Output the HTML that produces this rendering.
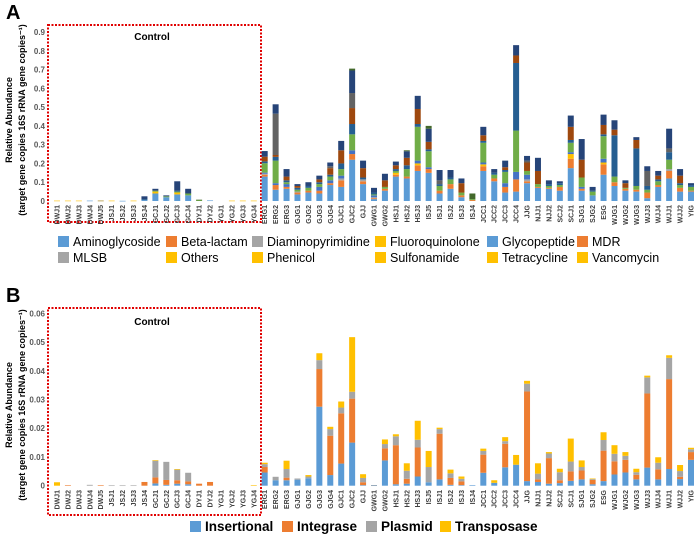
<!DOCTYPE html>
<html><head><meta charset="utf-8"><style>
body{margin:0;background:#fff;}
svg{display:block;font-family:"Liberation Sans",sans-serif;}
</style></head><body>
<svg id="chart" width="694" height="536" viewBox="0 0 694 536"></svg>
<script>
const categories=["DWJ1","DWJ2","DWJ3","DWJ4","DWJ5","JSJ1","JSJ2","JSJ3","JSJ4","GCJ1","GCJ2","GCJ3","GCJ4","DYJ1","DYJ2","YGJ1","YGJ2","YGJ3","YGJ4","ERG1","ERG2","ERG3","GJG1","GJG2","GJG3","GJG4","GJC1","GJC2","GJJ","GWG1","GWG2","HSJ1","HSJ2","HSJ3","ISJ5","ISJ1","ISJ2","ISJ3","ISJ4","JCC1","JCC2","JCC3","JCC4","JJG","NJJ1","NJJ2","SCJ2","SCJ1","SJG1","SJG2","ESG","WJG1","WJG2","WJG3","WJJ3","WJJ4","WJJ1","WJJ2","YIG"];
const ticksA=[0,0.1,0.2,0.3,0.4,0.5,0.6,0.7,0.8,0.9];
const ticksB=[0,0.01,0.02,0.03,0.04,0.05,0.06];
const namesA=["Aminoglycoside","Beta-lactam","Diaminopyrimidine","Fluoroquinolone","Glycopeptide","MDR","MLSB","Others","Phenicol","Sulfonamide","Tetracycline","Vancomycin"];
const aminoglycoside=[0,0,0,.002,0,0,.001,0,.005,.04,.02,.035,.03,0,.003,0,0,0,0,.13,.06,.065,.035,.045,.04,.085,.075,.22,.09,.01,.055,.13,.12,.16,.15,.04,.065,.02,0,.16,.105,.045,.05,.095,.07,.065,.055,.175,.055,.03,.14,.08,.055,.05,.015,.075,.12,.05,.05];
const betaLactam=[0,0,0,0,0,0,0,0,0,0,0,0,0,0,0,0,0,0,0,.01,.025,.01,.01,.01,.015,.01,.035,.03,.015,.005,.01,.01,.01,.03,.02,.015,.025,.01,.005,.025,.015,.03,.065,.01,.005,.005,.02,.05,.01,0,.055,.02,.01,.01,.03,.01,.04,.02,.005];
const diaminopyrimidine=[0,0,0,0,0,0,0,0,0,0,0,0,0,0,0,0,0,0,0,.005,0,0,.005,0,0,0,.01,0,.01,.005,0,0,0,0,0,0,0,0,0,0,0,0,0,.01,0,0,0,0,0,0,0,0,0,0,0,0,.01,0,0];
const fluoroquinolone=[.002,.002,.002,0,0,.002,0,.002,0,.01,0,.01,0,0,0,0,.002,.002,.002,0,0,0,0,0,0,0,0,0,0,0,0,.01,0,.01,0,0,0,0,0,.01,0,0,0,0,0,0,0,.025,0,0,.01,0,0,0,0,0,0,0,0];
const glycopeptide=[0,0,0,0,0,0,0,0,0,0,0,0,0,0,0,0,0,0,0,.006,.01,.015,0,0,.02,.015,.015,.02,0,.01,0,0,0,.015,.01,0,0,0,0,.01,0,.02,.04,.025,0,0,0,.01,.01,0,.02,0,0,0,0,0,0,0,0];
const mdr=[0,0,0,0,0,0,0,0,0,.005,.005,.005,.01,.005,0,0,0,0,0,.05,.12,.01,.01,.015,.015,.02,.035,.085,0,.005,.01,.01,.04,.18,.085,.025,.025,.015,.005,.105,.02,.06,.22,.02,.015,.01,.01,.05,.05,.02,.12,.03,.005,.02,.015,.02,.05,.015,.02];
const mlsb=[0,0,0,0,0,0,0,0,.005,0,0,.005,0,0,0,0,0,0,0,.01,.02,.01,.01,.01,.01,.01,.03,.055,.01,.01,0,.01,.02,.015,.01,.01,.01,0,0,.01,.01,.01,.36,0,0,.01,.01,.015,0,.005,.01,.22,0,.2,.02,.01,.04,.01,.01];
const others=[0,0,0,0,0,0,0,0,0,0,0,0,0,0,0,0,0,0,0,.025,.01,.02,.01,0,.015,.035,.07,.085,.05,0,.035,.02,.04,.08,.04,0,0,.05,0,.03,0,.015,.04,.045,.07,0,0,.07,.095,0,.05,.03,.025,.045,0,.02,0,.04,0];
const phenicol=[0,0,0,0,0,0,0,0,0,0,0,0,0,0,0,0,0,0,0,0,.22,0,0,0,0,.01,0,.08,0,0,0,0,0,0,0,.02,0,0,0,0,0,0,0,.01,0,0,0,0,0,0,0,0,0,0,.08,0,.02,0,0];
const sulfonamide=[0,0,0,0,.002,0,0,0,0,0,0,0,0,0,0,0,0,0,0,0,0,0,0,0,0,0,0,0,0,0,0,0,0,0,0,0,0,0,0,0,0,0,0,0,0,0,0,0,0,0,0,0,0,0,0,0,0,0,0];
const tetracycline=[0,0,0,0,0,0,0,0,.015,.01,.005,.05,.025,0,0,0,0,0,0,.03,.05,.04,.01,.02,.02,.02,.05,.12,.04,.025,.035,.02,.035,.07,.07,.055,.04,.025,0,.045,.02,.035,.055,.025,.07,.02,.01,.06,.11,.02,.055,.05,.015,.015,.025,.025,.105,.035,.01];
const vancomycin=[0,0,0,0,0,0,0,0,0,0,0,0,0,.002,0,0,0,0,0,0,0,0,0,0,0,0,0,.01,0,0,0,0,.005,0,.015,0,0,0,.03,0,0,0,0,0,0,0,0,0,0,0,0,0,0,0,0,0,0,0,0];
const namesB=["Insertional","Integrase","Plasmid","Transposase"];
const insertional=[0,0,0,0,0,0,0,0,0,.0008,.0003,.0007,.0005,0,0,0,0,0,0,.0046,.0019,.0019,.0021,.0026,.0275,.0037,.0077,.015,.0002,.0001,.0088,.0005,.0007,.0032,.0012,.0022,.0003,.0002,.0002,.0045,.001,.0064,.0073,.0016,.0013,.0007,.0009,.0017,.0022,.0005,.0016,.0039,.0046,.0022,.0063,.0022,.0058,.0023,.009];
const integrase=[0,.0002,0,0,.0002,0,0,0,.0013,.0021,.0017,.0012,.001,.0007,.0013,0,0,0,0,.0019,0,.0009,0,0,.0131,.0137,.0175,.0153,.001,0,.0042,.0136,.0017,.0101,0,.0159,.0024,.0013,0,.0063,0,.0082,0,.0312,.0009,.0089,.001,.0033,.0031,.0015,.0106,.0046,.0044,.0016,.0258,.0035,.0313,.0008,.0027];
const plasmid=[0,0,0,.0003,0,.0001,.0001,.0001,0,.0058,.0063,.0037,.003,0,0,0,0,0,0,.001,.0012,.003,.0004,.0006,.0031,.0023,.002,.0024,.0015,.0001,.0015,.0031,.0028,.0027,.0053,.0016,.0016,.0009,0,.0013,0,.0009,0,.0027,.002,.0016,.0028,.0034,.0012,.0003,.0037,.0026,.0014,.0009,.0056,.0023,.0074,.002,.001];
const transposase=[.0012,0,0,0,0,0,0,0,0,.0002,0,.0002,0,0,0,0,0,0,.0002,.0005,0,.0029,0,.0005,.0024,.0008,.0021,.019,.0013,0,.0016,.0007,.0026,.0066,.0056,.0005,.0013,.0008,0,.0008,.0009,.0014,.0034,.001,.0036,.0005,.0012,.008,.0023,.0002,.0027,.003,.0013,.0012,.0006,.0019,.0009,.0021,.0005];

const seriesA=[aminoglycoside,betaLactam,diaminopyrimidine,fluoroquinolone,glycopeptide,mdr,mlsb,others,phenicol,sulfonamide,tetracycline,vancomycin];
const colorsA=["#5B9BD5","#ED7D31","#A5A5A5","#FFC000","#4472C4","#70AD47","#255E91","#9E480E","#636363","#997300","#264478","#43682B"];
const legendColorsA=["#5B9BD5","#ED7D31","#A5A5A5","#FFC000","#5B9BD5","#ED7D31","#A5A5A5","#FFC000","#FFC000","#FFC000","#FFC000","#FFC000"];
const seriesB=[insertional,integrase,plasmid,transposase];
const colorsB=["#5B9BD5","#ED7D31","#A5A5A5","#FFC000"];

const svg=document.getElementById('chart');
const NS='http://www.w3.org/2000/svg';
function mk(tag,attrs,parent){const e=document.createElementNS(NS,tag);for(const k in attrs)e.setAttribute(k,attrs[k]);(parent||svg).appendChild(e);return e;}
const x0=57,dx=(691-57)/58,bw=6;
function xPos(i){return x0+i*dx;}

function panel(letter,ticks,base,top,maxV,series,colors,labTop,boxTop,boxBot,ctlY,titleY,fmt){
  const yScale=v=>base-(v/maxV)*(base-top);
  let t=mk('text',{x:6,y:letter==='A'?19:302,'font-size':20,'font-weight':'bold',fill:'#000'});
  
  
  t.textContent=letter;
  ticks.forEach(v=>{
    const e=mk('text',{x:45,y:yScale(v)+3,'font-size':8,'font-weight':'bold',fill:'#595959','text-anchor':'end'});
    
    
    e.textContent=fmt(v);
  });
  const g=mk('g',{transform:'translate(12,'+titleY+') rotate(-90)'});
  
  
  const t1=mk('text',{x:0,y:0,'font-size':9,'font-weight':'bold','text-anchor':'middle'},g);t1.textContent='Relative  Abundance';
  const t2=mk('text',{x:0,y:13,'font-size':9,'font-weight':'bold','text-anchor':'middle'},g);t2.textContent='(target gene copies 16S rRNA gene copies\u207B\u00B9)';
  const box=mk('rect',{x:48,y:boxTop,width:213,height:boxBot-boxTop,fill:'none',stroke:'#E00000','stroke-width':2,'stroke-dasharray':'2,1.5'});
  
  
  const ct=mk('text',{x:152,y:ctlY,'font-size':10,'font-weight':'bold','text-anchor':'middle'});
  
  
  ct.textContent='Control';
  categories.forEach((c,i)=>{
    let acc=0;
    series.forEach((s,k)=>{
      const v=s[i];if(!v)return;
      const y1=yScale(acc),y2=yScale(acc+v);acc+=v;
      const r=mk('rect',{x:xPos(i)-bw/2,y:y2,width:bw,height:Math.max(0.6,y1-y2),fill:colors[k]});
      
      
    });
    const lg=mk('text',{transform:'translate('+(xPos(i)+2.5)+','+labTop+') rotate(-90)','font-size':7,'font-weight':'bold',fill:'#404040','text-anchor':'end'});
    
    
    lg.textContent=c;
  });
}
panel('A',ticksA,201,32,0.9,seriesA,colorsA,205,25,222,40,120,v=>v===0?'0':v.toFixed(1));
panel('B',ticksB,485.7,313.3,0.06,seriesB,colorsB,490,308,515,325,405,v=>v===0?'0':v.toFixed(2));

const legA=[58,166,252,375,487,577];
namesA.forEach((n,k)=>{
  const col=k%6,row=Math.floor(k/6);
  const x=legA[col],y=row===0?241:257;
  const r=mk('rect',{x:x,y:y-5,width:11,height:11,fill:legendColorsA[k]});
  
  
  const t=mk('text',{x:x+15,y:y+5,'font-size':12.5,fill:'#000'});
  
  
  t.textContent=n;
});
const legB=[190,282,366,440];
namesB.forEach((n,k)=>{
  const x=legB[k],y=526;
  const r=mk('rect',{x:x,y:y-5,width:11,height:11,fill:colorsB[k]});
  
  
  const t=mk('text',{x:x+15,y:y+5,'font-size':13.5,'font-weight':'bold',fill:'#000'});
  
  
  t.textContent=n;
});
</script>
</body></html>
